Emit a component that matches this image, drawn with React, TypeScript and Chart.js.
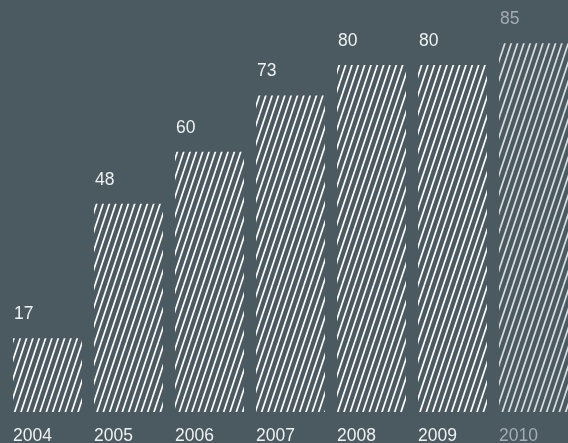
import { useEffect, useRef } from "react";
import { Chart, registerables } from "chart.js";

Chart.register(...registerables);

// Yearly values, one bar per year
const years = ["2004", "2005", "2006", "2007", "2008", "2009", "2010"];
const values = [17, 48, 60, 73, 80, 80, 85];
// Years drawn in a muted tone
const mutedYears = ["2010"];

const BG = "#4b5961";
const TEXT = "#eef1f2";
const MUTED_TEXT = "#a3acb1";

// Diagonal hatch tile: three "/" strokes per 19px, slope 3
function makeHatch(color: string): CanvasPattern | string {
  const W = 19;
  const H = 57;
  const c = document.createElement("canvas");
  c.width = W;
  c.height = H;
  const g = c.getContext("2d");
  if (!g) return color;
  g.strokeStyle = color;
  g.lineWidth = 1.7;
  for (let k = -4; k <= 4; k++) {
    const o = (k * W) / 3;
    g.beginPath();
    g.moveTo(o, H);
    g.lineTo(o + W, 0);
    g.stroke();
  }
  return g.createPattern(c, "repeat") || color;
}

const labelPlugin = {
  id: "barLabels",
  afterDatasetsDraw(chart: any) {
    const { ctx, chartArea } = chart;
    const meta = chart.getDatasetMeta(0);
    ctx.save();
    ctx.font = "17.5px 'Liberation Sans', Arial, sans-serif";
    ctx.textAlign = "left";
    ctx.textBaseline = "alphabetic";
    meta.data.forEach((bar: any, i: number) => {
      const p = bar.getProps(["x", "y", "width"], true);
      const left = p.x - p.width / 2;
      const muted = mutedYears.includes(years[i]);
      ctx.fillStyle = muted ? MUTED_TEXT : TEXT;
      ctx.fillText(String(values[i]), left + 1, p.y - 19);
      ctx.fillText(years[i], left, chartArea.bottom + 29);
    });
    ctx.restore();
  },
};

export default function App() {
  const ref = useRef<HTMLCanvasElement>(null);

  useEffect(() => {
    if (!ref.current) return;
    const solid = makeHatch("#ffffff");
    const dim = makeHatch("#d9dee1");
    const chart = new Chart(ref.current, {
      type: "bar",
      data: {
        labels: years,
        datasets: [
          {
            data: values,
            backgroundColor: years.map((y) => (mutedYears.includes(y) ? dim : solid)),
            borderWidth: 0,
            categoryPercentage: 1,
            barPercentage: 69 / 81,
          },
        ],
      },
      options: {
        responsive: false,
        devicePixelRatio: 1,
        animation: false,
        layout: { padding: { top: 0, bottom: 31, left: 7, right: 0 } },
        plugins: { legend: { display: false }, tooltip: { enabled: false } },
        scales: {
          x: { display: false },
          y: { display: false, min: 0, max: 95 },
        },
      },
      plugins: [labelPlugin],
    });
    return () => chart.destroy();
  }, []);

  return (
    <div
      style={{
        position: "fixed",
        left: 0,
        top: 0,
        width: 568,
        height: 443,
        overflow: "hidden",
        background: BG,
      }}
    >
      <canvas ref={ref} width={574} height={443} style={{ display: "block" }} />
    </div>
  );
}
